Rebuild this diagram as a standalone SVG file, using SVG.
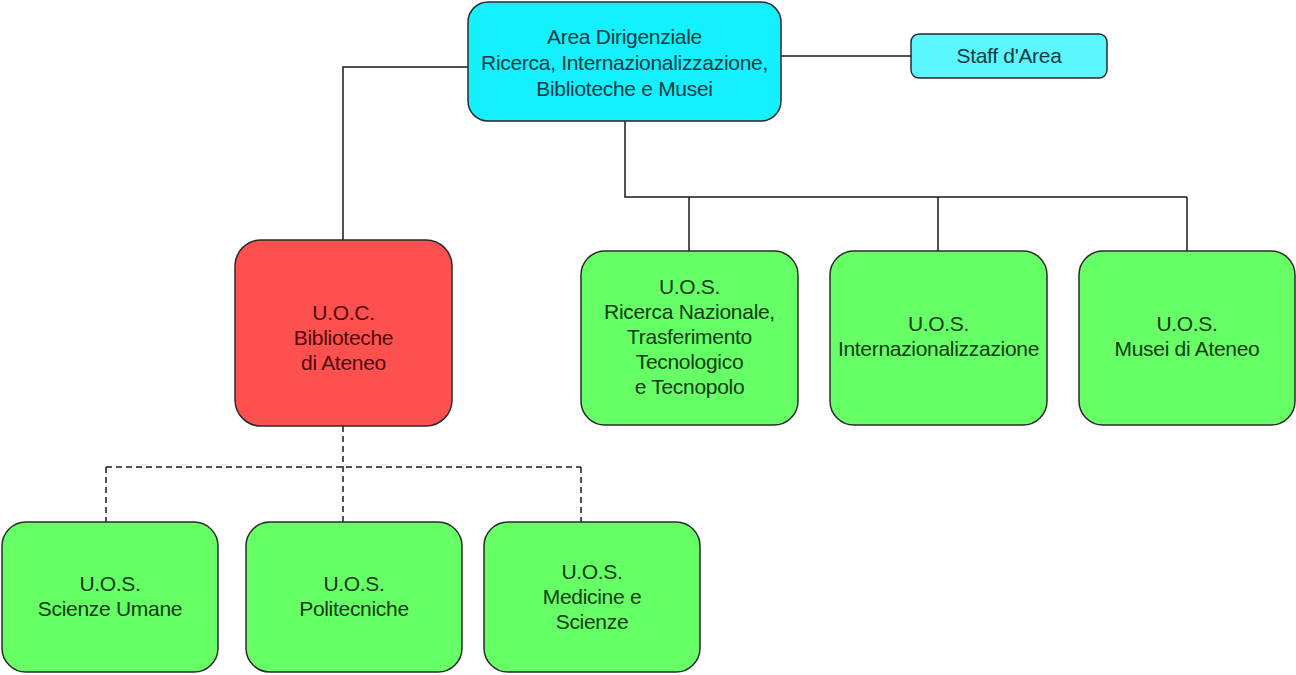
<svg xmlns="http://www.w3.org/2000/svg" width="1296" height="675" viewBox="0 0 1296 675">
  <style>
    text { font-family: "Liberation Sans", Arial, sans-serif; font-size: 21px; text-anchor: middle; letter-spacing: -0.3px; }
    .box { stroke: #2a2a2a; stroke-width: 1.5; }
    .cyan { fill: #14F0FF; }
    .cyan-light { fill: #5CF6FF; }
    .red { fill: #FF5050; }
    .green { fill: #66FF66; }
    .t-cyan { fill: #0E3C40; }
    .t-red { fill: #4A0A0A; }
    .t-green { fill: #0C3A0C; }
    .link { fill: none; stroke: #1a1a1a; stroke-width: 1.5; }
    .dashed { stroke-dasharray: 6 4; }
  </style>
  <rect width="1296" height="675" fill="#ffffff"/>

  <g id="connectors">
    <path class="link" d="M781 56 H911"/>
    <path class="link" d="M468 67 H343 V240"/>
    <path class="link" d="M625 121 V197 H1187"/>
    <path class="link" d="M689 197 V251"/>
    <path class="link" d="M938 197 V251"/>
    <path class="link" d="M1187 197 V251"/>
    <path class="link dashed" d="M343 426 V522"/>
    <path class="link dashed" d="M106 467 H581"/>
    <path class="link dashed" d="M106 467 V522"/>
    <path class="link dashed" d="M581 467 V522"/>
  </g>

  <g id="area-dirigenziale">
    <rect class="box cyan" x="468" y="2" width="313" height="119" rx="20"/>
    <text class="t-cyan" x="624.5" y="44">Area Dirigenziale</text>
    <text class="t-cyan" x="624.5" y="70">Ricerca, Internazionalizzazione,</text>
    <text class="t-cyan" x="624.5" y="96">Biblioteche e Musei</text>
  </g>

  <g id="staff-area">
    <rect class="box cyan-light" x="911" y="34" width="196" height="44" rx="8"/>
    <text class="t-cyan" x="1009" y="63">Staff d'Area</text>
  </g>

  <g id="uoc-biblioteche">
    <rect class="box red" x="235" y="240" width="217" height="186" rx="26"/>
    <text class="t-red" x="343.5" y="320">U.O.C.</text>
    <text class="t-red" x="343.5" y="345">Biblioteche</text>
    <text class="t-red" x="343.5" y="370">di Ateneo</text>
  </g>

  <g id="uos-ricerca">
    <rect class="box green" x="581" y="251" width="217" height="174" rx="24"/>
    <text class="t-green" x="689.5" y="294">U.O.S.</text>
    <text class="t-green" x="689.5" y="319">Ricerca Nazionale,</text>
    <text class="t-green" x="689.5" y="344">Trasferimento</text>
    <text class="t-green" x="689.5" y="369">Tecnologico</text>
    <text class="t-green" x="689.5" y="394">e Tecnopolo</text>
  </g>

  <g id="uos-internazionalizzazione">
    <rect class="box green" x="830" y="251" width="217" height="174" rx="24"/>
    <text class="t-green" x="938.5" y="331">U.O.S.</text>
    <text class="t-green" x="938.5" y="356">Internazionalizzazione</text>
  </g>

  <g id="uos-musei">
    <rect class="box green" x="1079" y="251" width="216" height="174" rx="24"/>
    <text class="t-green" x="1187" y="331">U.O.S.</text>
    <text class="t-green" x="1187" y="356">Musei di Ateneo</text>
  </g>

  <g id="uos-scienze-umane">
    <rect class="box green" x="2" y="522" width="216" height="150" rx="24"/>
    <text class="t-green" x="110" y="591">U.O.S.</text>
    <text class="t-green" x="110" y="616">Scienze Umane</text>
  </g>

  <g id="uos-politecniche">
    <rect class="box green" x="246" y="522" width="216" height="150" rx="24"/>
    <text class="t-green" x="354" y="591">U.O.S.</text>
    <text class="t-green" x="354" y="616">Politecniche</text>
  </g>

  <g id="uos-medicine-scienze">
    <rect class="box green" x="484" y="522" width="216" height="150" rx="24"/>
    <text class="t-green" x="592" y="579">U.O.S.</text>
    <text class="t-green" x="592" y="604">Medicine e</text>
    <text class="t-green" x="592" y="629">Scienze</text>
  </g>
</svg>
